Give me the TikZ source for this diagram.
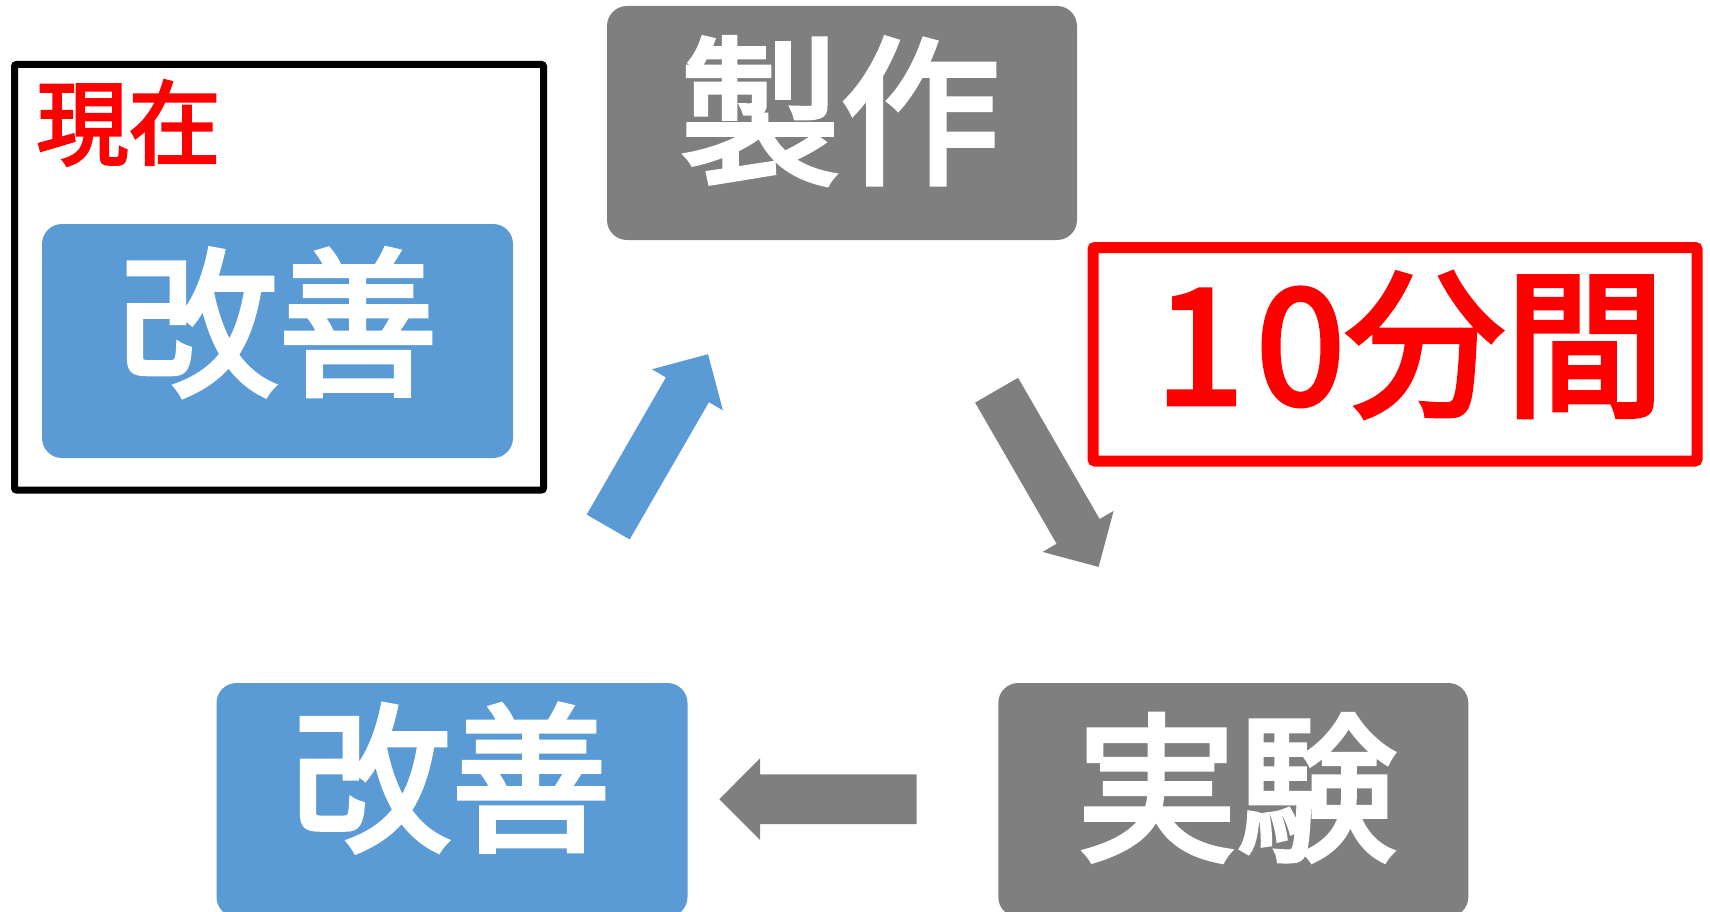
\documentclass[tikz,border=0pt]{standalone}
\usepackage{fontspec}
\newfontfamily\jp{Noto Sans CJK JP}[FakeBold=3]
\definecolor{cgray}{HTML}{7F7F7F}
\definecolor{cblue}{HTML}{5B9BD5}
\definecolor{cred}{HTML}{FF0000}
\tikzset{
  gbox/.style={fill=cgray, rounded corners=20pt, minimum width=470pt, minimum height=234pt, inner sep=0pt},
  bbox/.style={fill=cblue, rounded corners=20pt, minimum width=471pt, minimum height=234pt, inner sep=0pt},
  big/.style={text=white, inner sep=0pt, font=\jp\fontsize{160pt}{160pt}\selectfont},
  bluearrow/.style={fill=cblue},
  grayarrow/.style={fill=cgray},
}
\begin{document}
\begin{tikzpicture}[x=1pt, y=-1pt]
\useasboundingbox (0,0) rectangle (1710,912);
\begin{scope}
\clip (0,0) rectangle (1710,912);
% frame of the current step
\node[draw=black, line width=7pt, rounded corners=2pt, minimum width=529pt, minimum height=425.5pt, inner sep=0pt] (cur) at (279,277.25) {};
\node[red, inner sep=0pt, font=\jp\fontsize{92pt}{92pt}\selectfont] (now) at (128.5,123) {現在};
\node[bbox] (imp1) at (277.5,341) {};
\node[big] (imp1t) at (278,322.5) {改善};
% make
\node[gbox] (make) at (842,123) {};
\node[big] (maket) at (840,111) {製作};
% 10 minutes
\node[draw=cred, line width=11pt, rounded corners=2pt, minimum width=604pt, minimum height=213.5pt, inner sep=0pt] (tenbox) at (1395,354.25) {};
\node[text=cred, inner sep=0pt, font=\jp\fontsize{160pt}{160pt}\selectfont] (ten) at (1410,345) {1\kern12pt0分間};
% experiment
\node[gbox] (exp) at (1233.3,800) {};
\node[big] (expt) at (1236.7,787.8) {実験};
% improve (bottom)
\node[bbox] (imp2) at (452,800) {};
\node[big] (imp2t) at (451,778) {改善};
\end{scope}
% block arrows
\fill[bluearrow] (586.7,514.6) -- (665.9,377.4) -- (651.9,369.3) -- (708.0,354.2) -- (722.9,410.3) -- (708.9,402.2) -- (629.7,539.4) -- cycle;
\fill[grayarrow] (1018.1,377.8) -- (1099.6,519.0) -- (1113.6,510.9) -- (1098.6,566.9) -- (1042.6,551.9) -- (1056.6,543.8) -- (975.1,402.6) -- cycle;
\fill[grayarrow] (916.7,774.3) -- (760,774.3) -- (760,758.3) -- (719.3,799.3) -- (760,840) -- (760,824) -- (916.7,824) -- cycle;
\end{tikzpicture}
\end{document}
